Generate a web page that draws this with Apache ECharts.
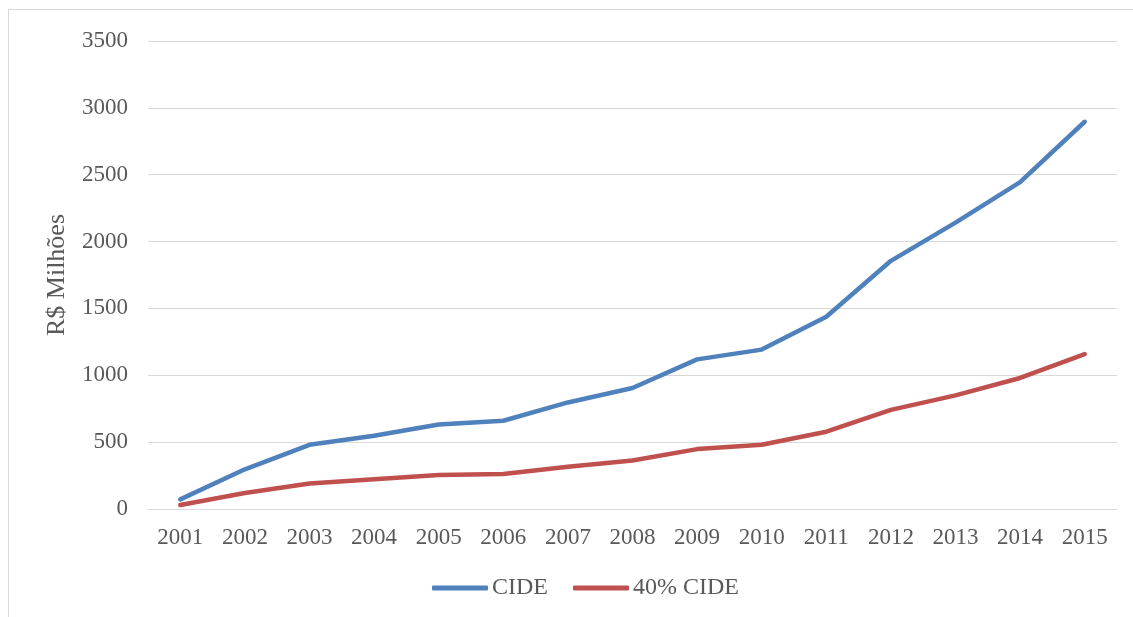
<!DOCTYPE html>
<html>
<head>
<meta charset="utf-8">
<script src="https://cdn.jsdelivr.net/npm/echarts@6/dist/echarts.min.js"></script>
<style>
html,body{margin:0;padding:0;background:#fff;}
#frame{position:absolute;left:8px;top:9px;width:1140px;height:620px;border:1px solid #d9d9d9;box-sizing:border-box;}
#chart{position:absolute;left:0;top:0;width:1133px;height:617px;}
</style>
</head>
<body>
<div id="frame"></div>
<div id="chart"></div>
<script>
const years = ['2001','2002','2003','2004','2005','2006','2007','2008','2009','2010','2011','2012','2013','2014','2015'];
const cide = [72, 297, 480, 548, 632, 660, 797, 905, 1119, 1192, 1438, 1856, 2142, 2445, 2896];
const cide40 = [30, 120, 191, 222, 255, 262, 316, 363, 448, 480, 578, 741, 850, 980, 1159];
const yTicks = [0, 500, 1000, 1500, 2000, 2500, 3000, 3500];

const font = '"Liberation Serif", "Times New Roman", serif';
const textColor = '#595959';
const chart = echarts.init(document.getElementById('chart'), null, {renderer:'canvas'});
chart.setOption({
  animation: false,
  backgroundColor: 'transparent',
  grid: {left: 148, right: 16, top: 41, bottom: 108},
  legend: {
    data: ['CIDE', '40% CIDE'],
    bottom: 12,
    left: 427,
    itemWidth: 56,
    itemHeight: 5,
    itemGap: 25,
    icon: 'roundRect',
    textStyle: {fontFamily: font, fontSize: 24, color: textColor, padding: [0,0,0,-1]}
  },
  xAxis: {
    type: 'category',
    data: years,
    boundaryGap: true,
    axisLine: {show: true, lineStyle: {color: '#d9d9d9', width: 1}},
    axisTick: {show: false},
    axisLabel: {fontFamily: font, fontSize: 23, color: textColor, margin: 17, interval: 0}
  },
  yAxis: {
    type: 'value',
    min: yTicks[0],
    max: yTicks[yTicks.length - 1],
    interval: 500,
    name: 'R$ Milhões',
    nameLocation: 'middle',
    nameGap: 78,
    nameTextStyle: {fontFamily: font, fontSize: 26, color: textColor},
    axisLine: {show: false},
    axisTick: {show: false},
    splitLine: {lineStyle: {color: '#d9d9d9', width: 1}},
    axisLabel: {fontFamily: font, fontSize: 23, color: textColor, margin: 20, formatter: v => String(v)}
  },
  series: [
    {name: 'CIDE', type: 'line', data: cide, symbol: 'none', lineStyle: {color: '#4F81BD', width: 4.5, cap: 'round', join: 'round'}, itemStyle: {color: '#4F81BD'}},
    {name: '40% CIDE', type: 'line', data: cide40, symbol: 'none', lineStyle: {color: '#C0504D', width: 4.5, cap: 'round', join: 'round'}, itemStyle: {color: '#C0504D'}}
  ]
});
</script>
</body>
</html>
